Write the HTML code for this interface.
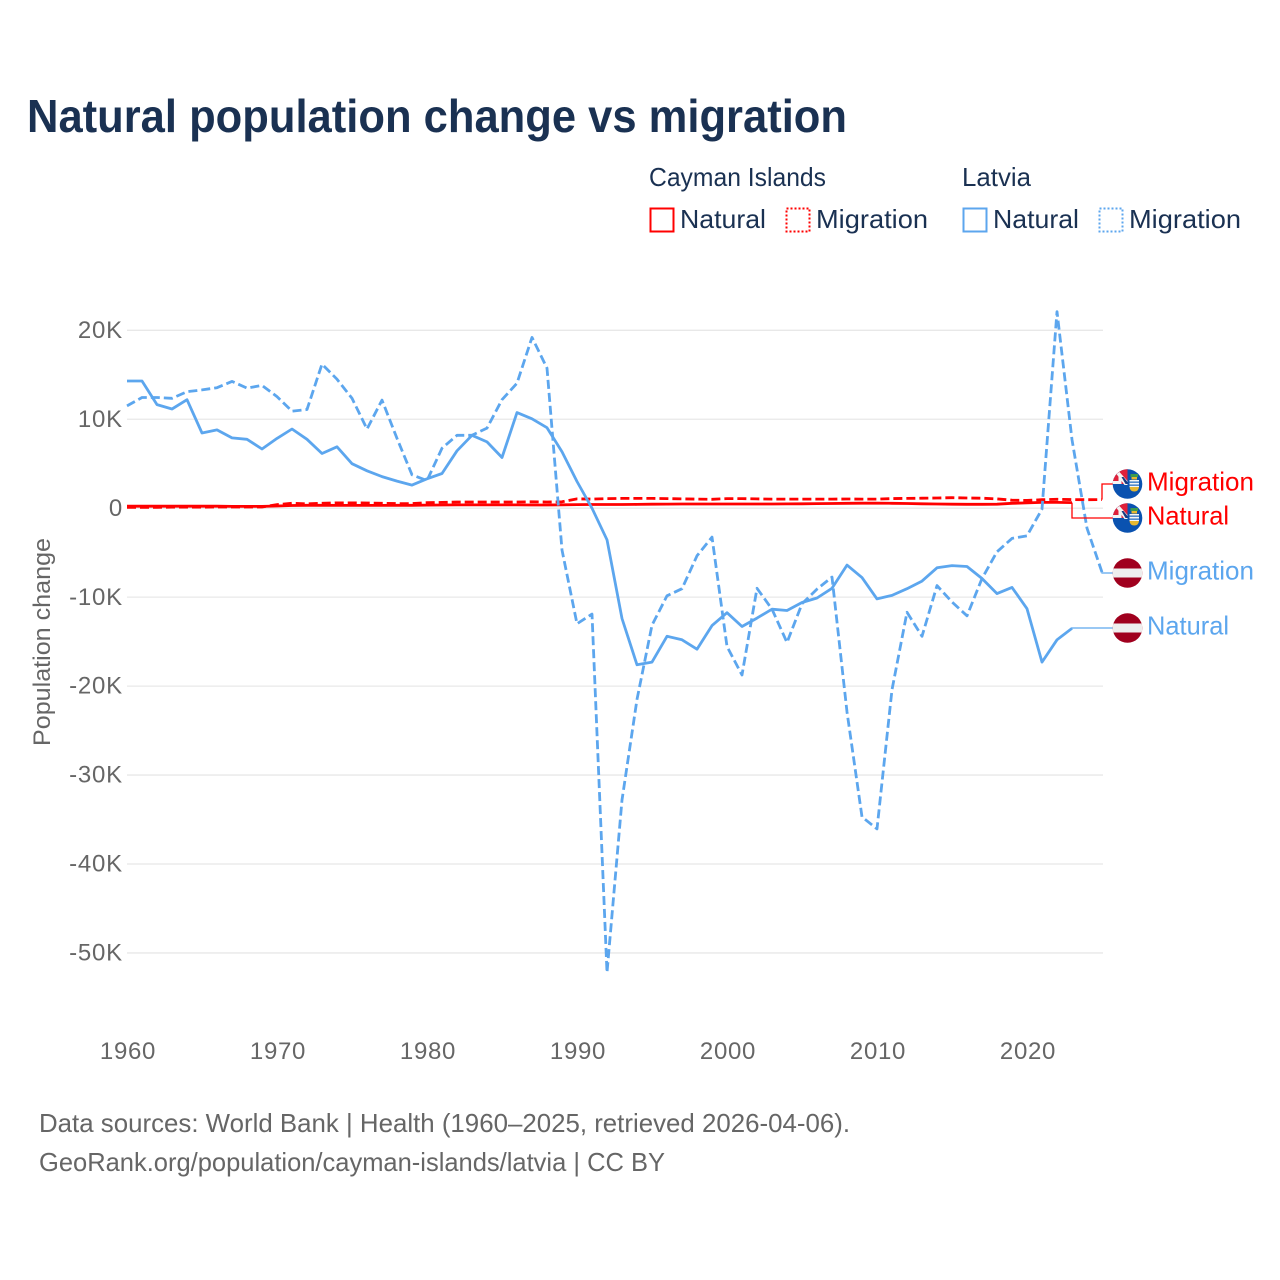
<!DOCTYPE html>
<html lang="en">
<head>
<meta charset="utf-8">
<title>Natural population change vs migration</title>
<style>
html,body{margin:0;padding:0;background:#fff;}
svg{display:block;}
text{font-family:"Liberation Sans",sans-serif;}
</style>
</head>
<body>
<svg id="chart" xmlns="http://www.w3.org/2000/svg" width="1280" height="1280" viewBox="0 0 1280 1280">
  <defs>
    <clipPath id="flag-clip"><circle cx="0" cy="0" r="14.8"/></clipPath>
    <g id="flag-cayman" clip-path="url(#flag-clip)">
      <rect x="-15" y="-15" width="30" height="30" fill="#0a52b0"/>
      <rect x="-15" y="-15" width="15" height="15" fill="#e0203a"/>
      <polygon points="-11,-10 -8,-12 0,-3 0,1 -3,1" fill="#f4f4f4"/>
      <rect x="-15" y="-3" width="9" height="3" fill="#f4f4f4"/>
      <rect x="-9" y="-9" width="3" height="9" fill="#f4f4f4"/>
      <polygon points="-6,-7 -4,-7 0,-2 0,0 -2,0" fill="#1a3a80"/>
      <rect x="2" y="-4" width="9.5" height="7" fill="#f6f6f6"/>
      <rect x="3" y="-10" width="7.5" height="3" fill="#3c9a50"/>
      <rect x="4" y="-7" width="5.5" height="2.5" fill="#e8b830"/>
      <rect x="2" y="-2.5" width="9.5" height="1.3" fill="#2a70c0"/>
      <rect x="2" y="0.5" width="9.5" height="1.3" fill="#2a70c0"/>
      <path d="M2,3 H11.5 Q11,7.5 6.8,7.5 Q2.5,7.5 2,3 Z" fill="#e8b830"/>
    </g>
    <g id="flag-latvia" clip-path="url(#flag-clip)">
      <rect x="-15" y="-15" width="30" height="30" fill="#a0001e"/>
      <rect x="-15" y="-4.5" width="30" height="9" fill="#eeeeee"/>
    </g>
  </defs>

  <text x="27" y="132" font-size="46" font-weight="700" fill="#1a3152" textLength="820" lengthAdjust="spacingAndGlyphs">Natural population change vs migration</text>

  <g font-size="26" fill="#1a3152">
    <text x="649" y="186" textLength="177" lengthAdjust="spacingAndGlyphs">Cayman Islands</text>
    <text x="962" y="186" textLength="69" lengthAdjust="spacingAndGlyphs">Latvia</text>
    <rect x="650.5" y="208.5" width="23" height="23" fill="none" stroke="#ff0000" stroke-width="2"/>
    <text x="680" y="228" textLength="86" lengthAdjust="spacingAndGlyphs">Natural</text>
    <rect x="786.5" y="208.5" width="23" height="23" fill="none" stroke="#ff0000" stroke-width="2" stroke-dasharray="2 2"/>
    <text x="816" y="228" textLength="112" lengthAdjust="spacingAndGlyphs">Migration</text>
    <rect x="963.5" y="208.5" width="23" height="23" fill="none" stroke="#5ca6ee" stroke-width="2"/>
    <text x="993" y="228" textLength="86" lengthAdjust="spacingAndGlyphs">Natural</text>
    <rect x="1099.5" y="208.5" width="23" height="23" fill="none" stroke="#5ca6ee" stroke-width="2" stroke-dasharray="2 2"/>
    <text x="1129" y="228" textLength="112" lengthAdjust="spacingAndGlyphs">Migration</text>
  </g>

  <g id="grid"></g>
  <g id="y-axis"></g>
  <g id="x-axis"></g>
  <text transform="translate(50,746) rotate(-90)" font-size="24" fill="#666666" textLength="208" lengthAdjust="spacingAndGlyphs">Population change</text>
  <g id="series"></g>
  <g id="ends"></g>

  <g font-size="26" fill="#666666">
    <text x="39" y="1132" textLength="811" lengthAdjust="spacingAndGlyphs">Data sources: World Bank | Health (1960–2025, retrieved 2026-04-06).</text>
    <text x="39" y="1171" textLength="626" lengthAdjust="spacingAndGlyphs">GeoRank.org/population/cayman-islands/latvia | CC BY</text>
  </g>
</svg>
<script>
const years = [1960,1961,1962,1963,1964,1965,1966,1967,1968,1969,1970,1971,1972,1973,1974,1975,1976,1977,1978,1979,1980,1981,1982,1983,1984,1985,1986,1987,1988,1989,1990,1991,1992,1993,1994,1995,1996,1997,1998,1999,2000,2001,2002,2003,2004,2005,2006,2007,2008,2009,2010,2011,2012,2013,2014,2015,2016,2017,2018,2019,2020,2021,2022,2023,2024,2025];
const latviaNatural = [14.3,14.3,11.65,11.15,12.2,8.45,8.8,7.9,7.75,6.65,7.85,8.9,7.75,6.15,6.9,5.0,4.2,3.55,3.05,2.6,3.3,3.9,6.45,8.2,7.45,5.7,10.75,10.05,9.05,6.35,3.0,0,-3.55,-12.4,-17.6,-17.3,-14.4,-14.8,-15.85,-13.2,-11.75,-13.3,-12.35,-11.35,-11.5,-10.6,-10.1,-9.0,-6.4,-7.8,-10.2,-9.8,-9.05,-8.2,-6.7,-6.45,-6.55,-7.9,-9.6,-8.9,-11.3,-17.3,-14.8,-13.5];
const latviaMigration = [11.5,12.45,12.45,12.35,13.1,13.3,13.55,14.25,13.5,13.8,12.55,10.9,11.1,16.2,14.5,12.35,8.9,12.15,7.85,3.75,3.1,6.75,8.2,8.2,9.0,12.2,14.05,19.2,15.75,-4.7,-13.0,-11.9,-52.2,-32.8,-21.5,-13.15,-9.85,-9.05,-5.35,-3.25,-15.55,-18.75,-9.0,-11.35,-15.1,-10.75,-9.1,-7.75,-22.9,-34.7,-36.05,-20.4,-11.7,-14.4,-8.7,-10.55,-12.1,-7.9,-4.9,-3.4,-3.1,-0.1,22.1,7.7,-2.25,-7.2];
const caymanNatural = [0.22,0.22,0.22,0.23,0.23,0.22,0.22,0.2,0.2,0.2,0.25,0.3,0.33,0.33,0.32,0.32,0.32,0.32,0.33,0.33,0.35,0.36,0.37,0.37,0.37,0.37,0.37,0.36,0.36,0.38,0.4,0.42,0.42,0.42,0.43,0.45,0.46,0.47,0.47,0.47,0.47,0.47,0.47,0.47,0.48,0.5,0.52,0.53,0.55,0.56,0.56,0.55,0.53,0.5,0.47,0.45,0.44,0.44,0.45,0.55,0.6,0.65,0.65,0.63];
const caymanMigration = [0.1,0.1,0.1,0.12,0.12,0.12,0.14,0.14,0.14,0.14,0.4,0.55,0.5,0.55,0.6,0.6,0.58,0.55,0.52,0.52,0.62,0.65,0.7,0.7,0.7,0.7,0.7,0.72,0.7,0.72,1.05,1.02,1.08,1.1,1.1,1.1,1.08,1.05,1.02,1.0,1.08,1.08,1.05,1.02,1.02,1.02,1.02,1.02,1.03,1.02,1.02,1.08,1.1,1.12,1.15,1.18,1.15,1.12,1.05,0.9,0.88,0.95,1.0,0.97,0.95,0.97];
const yTicks = [20,10,0,-10,-20,-30,-40,-50];
const xTicks = [1960,1970,1980,1990,2000,2010,2020];

const NS = 'http://www.w3.org/2000/svg';
const RED = '#ff0000';
const BLUE = '#5ca6ee';
function xScale(year){ return 127 + (year - 1960) * 15; }
function yScale(k){ return 508.2 - k * 8.895; }
function make(tag, attrs, parent){
  const el = document.createElementNS(NS, tag);
  for (const key in attrs) el.setAttribute(key, attrs[key]);
  parent.appendChild(el);
  return el;
}
function tickLabel(k){ return k === 0 ? '0' : k + 'K'; }

const gridLayer = document.getElementById('grid');
const yLayer = document.getElementById('y-axis');
yTicks.forEach(function(k){
  const line = make('line', {x1:127, x2:1103, y1:yScale(k), y2:yScale(k), stroke:'#e8e8e8', 'stroke-width':1.3}, gridLayer);
  
  
  const label = make('text', {x:123, y:yScale(k) + 7.6, 'text-anchor':'end', 'font-size':24, fill:'#666666', 'letter-spacing':0.8}, yLayer);
  
  
  label.textContent = tickLabel(k);
});

const xLayer = document.getElementById('x-axis');
xTicks.forEach(function(year){
  const label = make('text', {x:xScale(year) + 1, y:1059, 'text-anchor':'middle', 'font-size':24, fill:'#666666', 'letter-spacing':0.7}, xLayer);
  
  
  label.textContent = year;
});

function pathFor(values){
  return values.map(function(v, i){
    return (i ? 'L' : 'M') + xScale(years[i]).toFixed(1) + ' ' + yScale(v).toFixed(1);
  }).join(' ');
}
const seriesLayer = document.getElementById('series');
const endLayer = document.getElementById('ends');

function drawLine(values, color, dashed, lineName){
  const attrs = {d:pathFor(values), fill:'none', stroke:color, 'stroke-width':2.8, 'stroke-linejoin':'round'};
  if (dashed) attrs['stroke-dasharray'] = '9 4';
  const p = make('path', attrs, seriesLayer);
  
  
}
function drawEnd(values, color, flagId, labelText, labelY, labelWidth, endName){
  const i = values.length - 1;
  const x0 = xScale(years[i]);
  const y0 = yScale(values[i]);
  const c = make('path', {d:'M' + x0 + ' ' + y0 + ' V' + labelY + ' H1114', fill:'none', stroke:color, 'stroke-width':1.3}, endLayer);
  
  
  const f = make('use', {href:'#' + flagId, transform:'translate(1127.5,' + labelY + ')'}, endLayer);
  
  
  const t = make('text', {x:1147, y:labelY + 6.5, 'font-size':26, fill:color, textLength:labelWidth, lengthAdjust:'spacingAndGlyphs'}, endLayer);
  
  
  t.textContent = labelText;
}

drawLine(caymanNatural, RED, false, 'line-cayman-natural');
drawLine(caymanMigration, RED, true, 'line-cayman-migration');
drawLine(latviaNatural, BLUE, false, 'line-latvia-natural');
drawLine(latviaMigration, BLUE, true, 'line-latvia-migration');

drawEnd(caymanMigration, RED, 'flag-cayman', 'Migration', 484, 107, 'end-cayman-migration');
drawEnd(caymanNatural, RED, 'flag-cayman', 'Natural', 518, 82, 'end-cayman-natural');
drawEnd(latviaMigration, BLUE, 'flag-latvia', 'Migration', 573, 107, 'end-latvia-migration');
drawEnd(latviaNatural, BLUE, 'flag-latvia', 'Natural', 628, 82, 'end-latvia-natural');
</script>
</body>
</html>
